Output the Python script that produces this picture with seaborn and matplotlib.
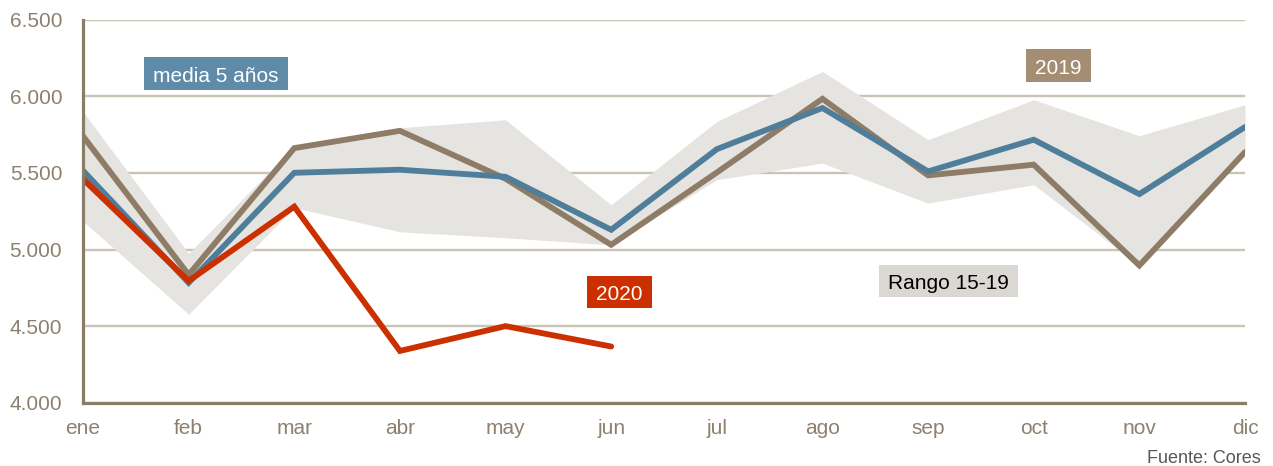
import numpy as np
import pandas as pd
import matplotlib
matplotlib.use("Agg")
import matplotlib.pyplot as plt
import seaborn as sns
from matplotlib.ticker import FuncFormatter
from matplotlib.transforms import offset_copy, IdentityTransform
from matplotlib.patches import Rectangle

months = ["ene", "feb", "mar", "abr", "may", "jun", "jul", "ago", "sep", "oct", "nov", "dic"]

# Monthly values
media_5 = [5515, 4783, 5501, 5521, 5475, 5129, 5655, 5924, 5510, 5717, 5362, 5800]
y2019 = [5740, 4835, 5662, 5775, 5462, 5031, 5503, 5984, 5484, 5554, 4896, 5636]
y2020 = [5460, 4795, 5280, 4338, 4500, 4367]
rango_max = [5900, 4975, 5672, 5795, 5847, 5292, 5836, 6163, 5717, 5978, 5743, 5945]
rango_min = [5185, 4578, 5273, 5116, 5077, 5030, 5456, 5564, 5303, 5423, 4896, 5630]

yticks = [4000, 4500, 5000, 5500, 6000, 6500]

C_BLUE = "#4f7e9b"
C_BLUE_BOX = "#5f8ba8"
C_BROWN = "#8e7c66"
C_BROWN_BOX = "#a58d73"
C_RED = "#cc2f00"
C_BAND = "#e6e4e0"
C_BAND_BOX = "#dbd8d3"
C_GRID = "#cbc4b6"
C_AXIS = "#8a7d68"
C_TICK = "#8d806e"

sns.set_style("white")
plt.rcParams["font.family"] = ["Liberation Sans", "DejaVu Sans"]

x_all = np.arange(len(months))
df = pd.DataFrame({
    "mes": np.concatenate([x_all, x_all, x_all[:len(y2020)]]),
    "valor": media_5 + y2019 + y2020,
    "serie": ["media 5 años"] * 12 + ["2019"] * 12 + ["2020"] * len(y2020),
})

fig = plt.figure(figsize=(12.73, 4.66), dpi=100)
ax = fig.add_axes([0.0652, 0.1358, 0.9128, 0.8218])

ax.fill_between(x_all, rango_min, rango_max, color=C_BAND, lw=0, zorder=1)

palette = {"2019": C_BROWN, "media 5 años": C_BLUE, "2020": C_RED}
sns.lineplot(data=df, x="mes", y="valor", hue="serie", hue_order=["2019", "media 5 años", "2020"],
             palette=palette, linewidth=4.2, legend=False, ax=ax, zorder=3,
             solid_capstyle="round", solid_joinstyle="miter")

ax.set_xlim(0, 11)
ax.set_ylim(4000, 6500)
ax.set_xticks(x_all)
ax.set_xticklabels(months)
ax.set_yticks(yticks)
ax.yaxis.set_major_formatter(FuncFormatter(lambda v, p: f"{int(v):,}".replace(",", ".")))
ax.set_xlabel("")
ax.set_ylabel("")

ax.grid(axis="y", color=C_GRID, linewidth=1.7, zorder=0)
ax.grid(axis="x", visible=False)
ax.set_axisbelow(True)
for s in ["top", "right"]:
    ax.spines[s].set_visible(False)
for s in ["left", "bottom"]:
    ax.spines[s].set_color(C_AXIS)
    ax.spines[s].set_linewidth(2.3)
    ax.spines[s].set_zorder(4)

ax.tick_params(axis="both", length=0, labelsize=15, colors=C_TICK)
ax.tick_params(axis="y", pad=15)
ax.tick_params(axis="x", pad=12)

# Tag boxes: fixed height, padded around the text width
tags = []

def tag(x, y, text, bg, fg="white"):
    t = ax.text(x, y, text, ha="center", va="baseline", fontsize=15, color=fg, zorder=7,
                transform=offset_copy(ax.transData, fig=fig, y=-8.2, units="dots"))
    tags.append((t, x, y, bg))

tag(1.259, 6149, "media 5 años", C_BLUE_BOX)
tag(9.236, 6201, "2019", C_BROWN_BOX)
tag(5.079, 4723, "2020", C_RED)
tag(8.196, 4793, "Rango 15-19", C_BAND_BOX, fg="black")

fig.text(0.990, 0.006, "Fuente: Cores", ha="right", va="baseline", fontsize=13, color="#575757")

fig.canvas.draw()
renderer = fig.canvas.get_renderer()
for t, x, y, bg in tags:
    bb = t.get_window_extent(renderer)
    cx, cy = ax.transData.transform((x, y))
    w = bb.width + 18.5
    h = 32.4
    ax.add_patch(Rectangle((cx - w / 2, cy - h / 2), w, h, transform=IdentityTransform(),
                           facecolor=bg, edgecolor="none", zorder=6, clip_on=False))

fig.savefig("out.png", dpi=100)
